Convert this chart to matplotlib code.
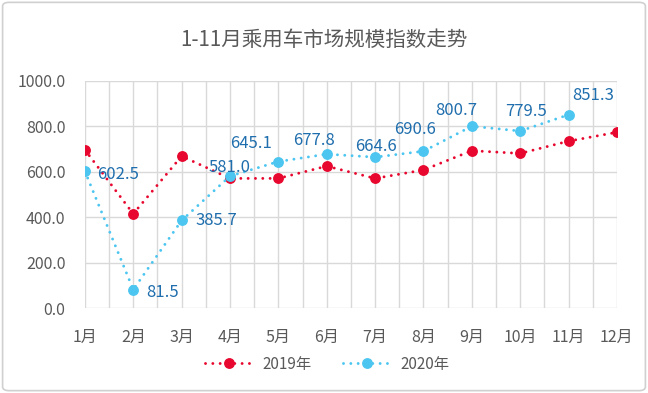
import matplotlib
matplotlib.use("Agg")
import matplotlib.pyplot as plt
from matplotlib.patches import FancyBboxPatch
from matplotlib.ticker import MultipleLocator

plt.rcParams['font.family'] = ['Noto Sans CJK SC', 'DejaVu Sans']

months = ['1月', '2月', '3月', '4月', '5月', '6月', '7月', '8月', '9月', '10月', '11月', '12月']
v2019 = [697, 415, 669, 571, 571, 625, 571, 608, 693, 681, 735, 774]
v2020 = [602.5, 81.5, 385.7, 581.0, 645.1, 677.8, 664.6, 690.6, 800.7, 779.5, 851.3]
yticks = [0, 200, 400, 600, 800, 1000]
title = '1-11月乘用车市场规模指数走势'

# label offsets (points) for 2020 data labels
offs = [(24, -2), (21, -2), (25, 0), (0, 6), (-20, 13), (-9, 10), (1, 8), (-6, 16), (-11, 11), (4, 14), (18, 14)]

red = '#E8072E'
cyan = '#4CC6F0'
lab = '#1F6EAD'
gray = '#595959'
grid = '#D9D9D9'

fig = plt.figure(figsize=(6.48, 3.93), dpi=100)
fig.patches.append(FancyBboxPatch((0.004, 0.006), 0.992, 0.988, boxstyle='round,pad=0,rounding_size=0.01',
                                  transform=fig.transFigure, fill=False, edgecolor='#D0D0D0', linewidth=1.2))
ax = fig.add_axes([0.131, 0.216, 0.821, 0.578])

x = list(range(len(months)))
dots = (0, (0.01, 2.5))
ax.plot(x, v2019, linestyle=dots, color=red, linewidth=2.1, marker='o', markersize=6.8,
        dash_capstyle='round', label='2019年', zorder=3)
ax.plot(x[:len(v2020)], v2020, linestyle=dots, color=cyan, linewidth=2.1, marker='o', markersize=6.8,
        dash_capstyle='round', label='2020年', zorder=4)

for i, v in enumerate(v2020):
    ax.annotate(f'{v:.1f}', (i, v), xytext=offs[i], textcoords='offset points', ha='center', va='center',
                color=lab, fontsize=12, zorder=5)

ax.set_xlim(0, len(months) - 1)
ax.set_ylim(0, 1000)
ax.set_xticks(x)
ax.set_xticklabels(months)
ax.xaxis.set_minor_locator(MultipleLocator(0.5))
ax.set_yticks(yticks)
ax.set_yticklabels([f'{t:.1f}' for t in yticks])
ax.tick_params(axis='both', which='both', length=0, labelsize=11.5, labelcolor=gray)
ax.tick_params(axis='x', pad=15)
ax.tick_params(axis='y', pad=14)
ax.grid(True, which='both', axis='x', color=grid, linewidth=1)
ax.grid(True, which='major', axis='y', color=grid, linewidth=1)
for s in ax.spines.values():
    s.set_visible(False)
ax.set_axisbelow(True)

fig.text(0.5, 0.898, title, ha='center', va='center', fontsize=14.8, color=gray)

leg = fig.legend(loc='center', bbox_to_anchor=(0.505, 0.073), ncol=2, frameon=False, fontsize=11,
                 handlelength=3.2, columnspacing=2.0, handletextpad=0.6)
for t in leg.get_texts():
    t.set_color(gray)

fig.savefig('out.png', dpi=100, facecolor='white')
